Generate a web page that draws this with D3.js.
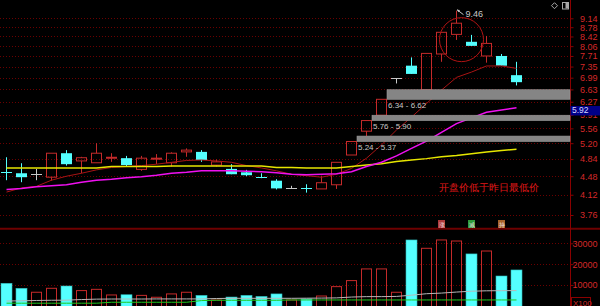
<!DOCTYPE html>
<html>
<head>
<meta charset="utf-8">
<script src="https://cdn.jsdelivr.net/npm/d3@7"></script>
<style>
	html, body { margin: 0; padding: 0; background: #000; }
	svg { display: block; }
	text { font-family: "Liberation Sans", Arial, sans-serif; }
</style>
</head>
<body>
<svg id="chart" width="600" height="306"></svg>
<script>
(function() {
	"use strict";

	// daily bars, oldest first
	var opens  = [4.57,4.54,4.52,4.46,4.97,4.80,4.76,4.87,4.86,4.62,4.85,4.76,5.00,5.00,4.71,4.63,4.56,4.47,4.39,4.24,4.24,4.23,4.31,4.93,5.49,5.90,6.97,7.38,6.62,7.78,8.50,8.22,7.71,7.71,7.07];
	var highs  = [4.88,4.75,4.63,4.97,5.04,4.89,5.20,4.97,4.91,4.91,4.95,4.99,5.08,5.04,4.83,4.73,4.61,4.54,4.42,4.29,4.32,4.49,4.77,5.24,5.76,6.34,6.97,7.66,7.80,8.58,9.46,8.48,8.44,7.78,7.51];
	var lows   = [4.40,4.36,4.40,4.39,4.70,4.54,4.76,4.78,4.68,4.59,4.73,4.68,4.89,4.78,4.68,4.52,4.48,4.44,4.22,4.24,4.16,4.23,4.23,4.93,5.37,5.90,6.81,7.11,6.62,7.51,8.29,8.07,7.48,7.38,6.75];
	var closes = [4.53,4.46,4.52,4.97,4.73,4.87,4.97,4.88,4.71,4.86,4.86,4.97,5.04,4.82,4.78,4.52,4.50,4.46,4.24,4.24,4.23,4.35,4.77,5.24,5.76,6.34,6.97,7.11,7.80,8.58,8.94,8.07,8.16,7.38,6.85];
	var volumes = [10800,8400,6500,8400,9500,7300,7900,5200,5300,5000,4100,5700,6500,5000,2800,4200,5000,4500,5700,2800,3300,4700,9200,12100,17700,17700,6500,31600,27600,31600,31100,24900,26300,14300,17200];

	// moving average lines as shown
	var maShort = [4.17,4.25,4.28,4.40,4.48,4.54,4.61,4.66,4.68,4.70,4.73,4.77,4.81,4.82,4.80,4.77,4.70,4.65,4.59,4.52,4.49,4.46,4.52,4.64,4.86,5.16,5.52,5.85,6.22,6.61,7.00,7.17,7.37,7.37,7.29];
	var maMid   = [4.22,4.24,4.27,4.29,4.31,4.36,4.40,4.42,4.45,4.47,4.50,4.54,4.56,4.59,4.59,4.59,4.58,4.57,4.55,4.52,4.51,4.52,4.53,4.57,4.68,4.77,4.91,5.08,5.25,5.46,5.68,5.83,5.98,6.04,6.10];
	var maLong  = [4.65,4.65,4.65,4.65,4.65,4.65,4.65,4.68,4.68,4.68,4.68,4.69,4.69,4.69,4.69,4.69,4.69,4.69,4.66,4.66,4.65,4.65,4.65,4.68,4.71,4.74,4.79,4.82,4.85,4.89,4.92,4.96,5.00,5.03,5.06];
	var volMaA  = [2300,2400,2550,2650,2700,3000,3200,3250,3250,3250,3300,3300,3300,3300,3500,3600,3600,3600,3600,3600,3650,3700,3800,4200,4400,4400,4500,5100,5800,6100,6600,7000,7200,7250,7300];
	var volMaB  = [1250,1250,1250,1250,1250,1250,1250,1700,1700,1700,1700,1700,1700,2500,2650,2650,2650,2650,2650,2800,2800,2800,2800,2800,2800,2800,2800,2800,2800,2800,2800,2800,2800,2800,2800];

	// open price gaps
	var gapFrom = [25, 24, 23];
	var gapLow  = [6.34, 5.76, 5.24];
	var gapHigh = [6.62, 5.90, 5.37];

	var priceTicks = [9.14,8.78,8.42,8.06,7.71,7.35,6.99,6.63,6.27,5.91,5.56,5.20,4.84,4.48,4.12,3.76];
	var volTicks = [30000, 20000, 10000];
	var lastPrice = 5.92;
	var noteText = "开盘价低于昨日最低价";
	var signIcons = ["涨", "减", "持"];

	var RED = "#c42a2a", CYAN = "#54ffff", GRAY = "#c8c8c8", GRID = "#6a0000";
	var axisX = 570;

	var svg = d3.select("#chart");

	var x = d3.scaleBand().domain(d3.range(38)).range([-1, 569]);
	var cx = function(i) { return x(i) + x.bandwidth() / 2; };
	var half = 5.5;
	var y = d3.scaleLog().domain([3.76, 9.14]).range([215, 18.3]);
	var yv = d3.scaleLinear().domain([0, 30000]).range([305.8, 243.3]);

	var bars = closes.map(function(c, i) {
		return { i: i, o: opens[i], h: highs[i], l: lows[i], c: c, v: volumes[i] };
	});
	function barColor(d) {
		return d.c > d.o ? RED : (d.c < d.o ? CYAN : GRAY);
	}

	svg.append("rect").attr("width", 600).attr("height", 306).attr("fill", "#000");

	// grid
	svg.append("g").selectAll("line")
		.data(priceTicks)
		.join("line")
		.attr("x1", 0).attr("x2", axisX)
		.attr("y1", function(d) { return Math.round(y(d)) + 0.5; })
		.attr("y2", function(d) { return Math.round(y(d)) + 0.5; })
		.attr("stroke", GRID)
		.attr("stroke-dasharray", "1,2");

	svg.append("g").selectAll("line")
		.data(volTicks)
		.join("line")
		.attr("x1", 0).attr("x2", axisX)
		.attr("y1", function(d) { return Math.round(yv(d)) + 0.5; })
		.attr("y2", function(d) { return Math.round(yv(d)) + 0.5; })
		.attr("stroke", GRID)
		.attr("stroke-dasharray", "1,2");

	// panel frame
	svg.append("line")
		.attr("x1", 0).attr("x2", 600).attr("y1", 228.7).attr("y2", 228.7)
		.attr("stroke", "#6e0000").attr("stroke-width", 2);
	svg.append("line")
		.attr("x1", axisX + 0.5).attr("x2", axisX + 0.5).attr("y1", 0).attr("y2", 306)
		.attr("stroke", "#8a0000");

	// candles
	var gC = svg.append("g");
	bars.forEach(function(d) {
		var c = cx(d.i) , col = barColor(d);
		var top = y(Math.max(d.o, d.c)), bot = y(Math.min(d.o, d.c));
		if (d.c > d.o) {
			gC.append("line").attr("x1", c).attr("x2", c).attr("y1", y(d.h)).attr("y2", top).attr("stroke", col);
			gC.append("line").attr("x1", c).attr("x2", c).attr("y1", bot).attr("y2", y(d.l)).attr("stroke", col);
			gC.append("rect")
				.attr("x", c - half + 0.5).attr("y", top)
				.attr("width", 2 * half - 1).attr("height", Math.max(bot - top, 1))
				.attr("fill", "none").attr("stroke", col);
		} else {
			gC.append("line").attr("x1", c).attr("x2", c).attr("y1", y(d.h)).attr("y2", y(d.l)).attr("stroke", col);
			if (d.c < d.o && bot - top >= 2) {
				gC.append("rect")
					.attr("x", c - half).attr("y", top)
					.attr("width", 2 * half).attr("height", bot - top)
					.attr("fill", col);
			} else {
				gC.append("line")
					.attr("x1", c - half).attr("x2", c + half)
					.attr("y1", Math.round(top) + 0.5).attr("y2", Math.round(top) + 0.5)
					.attr("stroke", col);
			}
		}
	});

	// MA lines
	var line = function(vals) {
		return d3.line().x(function(d, i) { return cx(i); }).y(function(d) { return y(d); })(vals);
	};
	svg.append("path").attr("d", line(maShort)).attr("fill", "none").attr("stroke", "#a81414").attr("stroke-width", 1);
	svg.append("path").attr("d", line(maLong)).attr("fill", "none").attr("stroke", "#e6e600").attr("stroke-width", 1.5);
	svg.append("path").attr("d", line(maMid)).attr("fill", "none").attr("stroke", "#f010f0").attr("stroke-width", 1.5);

	// gap bands
	var gG = svg.append("g");
	gapFrom.forEach(function(k, j) {
		var x0 = cx(k) + half;
		gG.append("rect")
			.attr("x", x0).attr("y", y(gapHigh[j]))
			.attr("width", axisX - x0).attr("height", y(gapLow[j]) - y(gapHigh[j]))
			.attr("fill", "#858585").attr("stroke", "#9a9a9a").attr("stroke-width", 0.6);
		gG.append("text")
			.attr("x", cx(k) + 6.5).attr("y", y(gapLow[j]) + 8.5)
			.attr("fill", GRAY).attr("font-size", 8)
			.text(gapLow[j].toFixed(2) + " - " + gapHigh[j].toFixed(2));
	});

	// volume
	var gV = svg.append("g");
	bars.forEach(function(d) {
		var c = cx(d.i), up = d.c >= d.o;
		gV.append("rect")
			.attr("x", up ? c - half + 0.5 : c - half)
			.attr("y", yv(d.v))
			.attr("width", up ? 2 * half - 1 : 2 * half)
			.attr("height", 306 - yv(d.v) + 2)
			.attr("fill", up ? "none" : CYAN)
			.attr("stroke", up ? RED : "#2fb8b8")
			.attr("stroke-width", up ? 1 : 0.6);
	});
	var vline = function(vals) {
		return d3.line().x(function(d, i) { return cx(i); }).y(function(d) { return yv(d); })(vals);
	};
	svg.append("path").attr("d", vline(volMaB)).attr("fill", "none").attr("stroke", "#1ec81e");
	svg.append("path").attr("d", vline(volMaA)).attr("fill", "none").attr("stroke", "#b8b8b8");

	// axis labels, right aligned near the edge
	var yAxis = d3.axisRight(y).tickValues(priceTicks).tickSize(3).tickFormat(d3.format(".2f"));
	var gAy = svg.append("g").attr("transform", "translate(" + (axisX + 0.5) + ",0)").call(yAxis);
	var vAxis = d3.axisRight(yv).tickValues(volTicks).tickSize(3).tickFormat(d3.format("d"));
	var gAv = svg.append("g").attr("transform", "translate(" + (axisX + 0.5) + ",0)").call(vAxis);
	[gAy, gAv].forEach(function(g) {
		g.select(".domain").remove();
		g.selectAll("line").attr("stroke", "#8a0000");
		g.selectAll("text")
			.attr("x", 27)
			.attr("text-anchor", "end")
			.attr("fill", "#d42828").attr("font-size", 9)
			.attr("font-family", "Liberation Sans, Arial, sans-serif");
	});

	// last price box (covers the tick label under it, as on screen)
	var ly = y(lastPrice);
	svg.append("rect").attr("x", axisX + 0.5).attr("y", ly - 8.5).attr("width", 30).attr("height", 9.5).attr("fill", "#000088");
	svg.append("text").attr("x", axisX + 2).attr("y", ly - 1).attr("fill", "#d8d8ff").attr("font-size", 8.5).text(lastPrice.toFixed(2));

	// X100 unit box
	svg.append("rect").attr("x", axisX + 1.5).attr("y", 297.5).attr("width", 19).attr("height", 10).attr("fill", "none").attr("stroke", "#8a0000");
	svg.append("text").attr("x", axisX + 3).attr("y", 305.5).attr("fill", "#d42828").attr("font-size", 8).text("X100");

	// peak annotation
	var pk = d3.maxIndex(highs), px = cx(pk), py = y(highs[pk]);
	svg.append("line").attr("x1", px + 7).attr("y1", py + 4).attr("x2", px + 0.5).attr("y2", py - 1).attr("stroke", GRAY);
	svg.append("path").attr("d", "M" + (px + 0.5) + "," + (py - 1) + "l3,0.2l-1.6,2.4z").attr("fill", GRAY);
	svg.append("text").attr("x", px + 9).attr("y", py + 6).attr("fill", GRAY).attr("font-size", 9).text(highs[pk].toFixed(2));

	svg.append("circle")
		.attr("cx", (cx(pk) + cx(pk + 1)) / 2 - 2.5)
		.attr("cy", y(8.30))
		.attr("r", 22)
		.attr("fill", "none").attr("stroke", "#b01414");

	// note
	svg.append("text")
		.attr("x", cx(29) - 3).attr("y", y(4.12) - 4)
		.attr("fill", "#e01818").attr("font-size", 9.5)
		.attr("font-family", "Noto Sans CJK SC, sans-serif")
		.text(noteText);

	var iconCols = ["#b03a3a", "#2f9a3a", "#a8642a"];
	signIcons.forEach(function(s, j) {
		var c = cx(29 + 2 * j);
		svg.append("rect").attr("x", c - 3.5).attr("y", 220).attr("width", 7).attr("height", 8).attr("fill", iconCols[j]);
		svg.append("text").attr("x", c).attr("y", 226.5).attr("text-anchor", "middle")
			.attr("fill", "#f0e0e0").attr("font-size", 6)
			.attr("font-family", "Noto Sans CJK SC, sans-serif").text(s);
	});

	// top right icons
	svg.append("path").attr("d", "M554.5,2.7L557.5,5.7L554.5,8.7L551.5,5.7Z").attr("fill", "none").attr("stroke", "#a8a8a8");
	svg.append("rect").attr("x", 562.5).attr("y", 2.5).attr("width", 6).attr("height", 6.5).attr("fill", "none").attr("stroke", "#a8a8a8");
	svg.append("rect").attr("x", 565.5).attr("y", 3).attr("width", 2.5).attr("height", 5.5).attr("fill", "#a8a8a8");
})();
</script>
</body>
</html>
